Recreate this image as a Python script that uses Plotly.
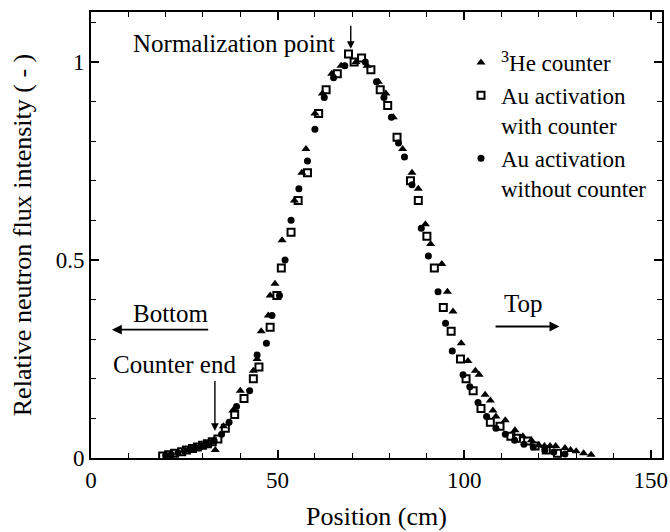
import plotly.graph_objects as go

# 3He counter (triangles)
he_x = [33.3, 35.5, 38.0, 40.0, 43.5, 44.5, 45.6, 47.5, 48.0, 49.3, 51.2, 54.5, 56.5, 57.6, 60.0,
        62.0, 64.5, 67.0, 71.0, 74.0, 77.0, 79.0, 81.0, 83.5, 86.0, 87.7, 89.6, 91.0, 94.0, 95.5,
        97.0, 99.2, 101.0, 103.0, 104.0, 105.6, 107.0, 107.7, 108.5, 111.0, 113.6, 115.7, 118.0,
        120.0, 121.5, 123.0, 124.5, 127.0, 128.5, 130.0, 132.0, 134.0]
he_y = [0.02, 0.08, 0.12, 0.17, 0.22, 0.25, 0.32, 0.36, 0.41, 0.44, 0.55, 0.65, 0.72, 0.78, 0.87,
        0.92, 0.97, 0.99, 1.00, 0.99, 0.95, 0.92, 0.86, 0.78, 0.72, 0.68, 0.59, 0.54, 0.49, 0.42,
        0.37, 0.29, 0.245, 0.22, 0.21, 0.16, 0.145, 0.12, 0.105, 0.095, 0.07, 0.055, 0.045,
        0.033, 0.03, 0.03, 0.03, 0.025, 0.02, 0.017, 0.012, 0.008]

# Au activation with counter (open squares)
auw_x = [19.2, 20.8, 22.4, 24.3, 25.6, 27.2, 28.5, 29.9, 31.2, 32.5, 34.0, 36.0, 38.5, 41.0, 43.5,
         45.0, 48.0, 49.8, 51.0, 53.6, 55.5, 58.0, 61.0, 63.0, 66.0, 69.0, 70.5, 72.5, 75.0, 77.5,
         79.5, 82.0, 85.6, 87.7, 90.0, 92.0, 94.4, 96.5, 99.0, 100.5, 102.4, 104.5, 107.0, 109.6,
         112.5, 114.0, 117.0, 119.0, 122.0, 125.0]
auw_y = [0.005, 0.008, 0.012, 0.016, 0.02, 0.024, 0.028, 0.032, 0.036, 0.041, 0.048, 0.075, 0.11, 0.15, 0.20,
         0.23, 0.33, 0.41, 0.48, 0.57, 0.65, 0.72, 0.87, 0.93, 0.97, 1.02, 1.00, 1.01, 0.98, 0.93,
         0.89, 0.81, 0.70, 0.65, 0.56, 0.48, 0.38, 0.32, 0.25, 0.20, 0.17, 0.125, 0.09, 0.08,
         0.055, 0.05, 0.043, 0.03, 0.02, 0.012]

# Au activation without counter (filled circles)
auo_x = [20.0, 21.5, 23.3, 25.0, 26.5, 28.0, 29.5, 31.0, 33.0, 35.0, 37.0, 39.0, 42.5, 44.5, 47.0,
         48.5, 50.5, 52.0, 53.6, 55.7, 58.0, 60.0, 62.5, 65.0, 68.0, 73.5, 76.5, 78.5, 80.5, 82.4,
         84.0, 86.0, 88.5, 90.4, 93.0, 95.0, 96.8, 99.7, 101.5, 103.7, 106.0, 108.5, 111.0, 113.5,
         116.0, 118.5, 121.6, 124.0, 127.0]
auo_y = [0.006, 0.009, 0.013, 0.018, 0.022, 0.026, 0.03, 0.035, 0.043, 0.06, 0.09, 0.13, 0.17, 0.26, 0.29,
         0.36, 0.41, 0.50, 0.60, 0.68, 0.75, 0.83, 0.91, 0.96, 0.99, 1.00, 0.95, 0.91, 0.86, 0.795,
         0.76, 0.69, 0.58, 0.51, 0.42, 0.34, 0.27, 0.21, 0.18, 0.14, 0.105, 0.075, 0.06, 0.045,
         0.035, 0.028, 0.02, 0.015, 0.01]

x_ticks = [0, 50, 100, 150]
y_ticks = [0, 0.5, 1]
y_tick_text = ["0", "0.5", "1"]

FONT = "Liberation Serif, Times New Roman, serif"

fig = go.Figure()
fig.add_trace(go.Scatter(x=he_x, y=he_y, mode="markers", name="<sup>3</sup>He counter",
                         marker=dict(symbol="triangle-up", size=8, color="black")))
fig.add_trace(go.Scatter(x=auw_x, y=auw_y, mode="markers", name="Au activation<br>with counter",
                         marker=dict(symbol="square-open", size=7, color="black", line=dict(width=2))))
fig.add_trace(go.Scatter(x=auo_x, y=auo_y, mode="markers", name="Au activation<br>without counter",
                         marker=dict(symbol="circle", size=7, color="black")))

ann_font = dict(family=FONT, size=25, color="black")
arrow_kw = dict(xref="x", yref="y", axref="x", ayref="y", showarrow=True,
                arrowhead=2, arrowsize=1.1, arrowcolor="black", text="")
# Normalization point
fig.add_annotation(x=69.6, y=1.033, ax=69.6, ay=1.095, arrowwidth=1.4, **arrow_kw)
fig.add_annotation(x=65.8, y=1.046, text="Normalization point", showarrow=False,
                   xanchor="right", yanchor="middle", font=ann_font)
# Counter end
fig.add_annotation(x=33.2, y=0.068, ax=33.2, ay=0.198, arrowwidth=1.4, **arrow_kw)
fig.add_annotation(x=39.5, y=0.236, text="Counter end", showarrow=False,
                   xanchor="right", yanchor="middle", font=ann_font)
# Bottom
fig.add_annotation(x=5.6, y=0.324, ax=31.8, ay=0.324, arrowwidth=1.8, **arrow_kw)
fig.add_annotation(x=21.4, y=0.366, text="Bottom", showarrow=False,
                   xanchor="center", yanchor="middle", font=ann_font)
# Top
fig.add_annotation(x=125.5, y=0.332, ax=108.0, ay=0.332, arrowwidth=1.8, **arrow_kw)
fig.add_annotation(x=116.0, y=0.39, text="Top", showarrow=False,
                   xanchor="center", yanchor="middle", font=ann_font)

axis_common = dict(showline=True, linecolor="black", linewidth=2, mirror="ticks",
                   ticks="inside", ticklen=8, tickwidth=1.5, tickcolor="black",
                   showgrid=False, zeroline=False, automargin=False,
                   tickfont=dict(family=FONT, size=23, color="black"))

fig.update_xaxes(range=[0, 153], tickvals=x_ticks,
                 minor=dict(dtick=10, ticks="inside", ticklen=5, tickwidth=1.2, tickcolor="black"),
                 title=dict(text="Position (cm)", font=dict(family=FONT, size=26, color="black"), standoff=15),
                 **axis_common)
fig.update_yaxes(range=[0, 1.126], tickvals=y_ticks, ticktext=y_tick_text,
                 minor=dict(dtick=0.1, ticks="inside", ticklen=5, tickwidth=1.2, tickcolor="black"),
                 title=dict(text="Relative neutron flux intensity ( - )", font=dict(family=FONT, size=26, color="black"), standoff=17),
                 **axis_common)

fig.update_layout(
    width=670, height=532,
    margin=dict(l=91, r=8, t=12, b=74),
    plot_bgcolor="white", paper_bgcolor="white",
    showlegend=True,
    legend=dict(x=0.648, y=0.935, xanchor="left", yanchor="top", bgcolor="rgba(0,0,0,0)",
                font=dict(family=FONT, size=23, color="black"), itemwidth=30,
                tracegroupgap=0, valign="top"),
)

fig.write_html("out.html")
